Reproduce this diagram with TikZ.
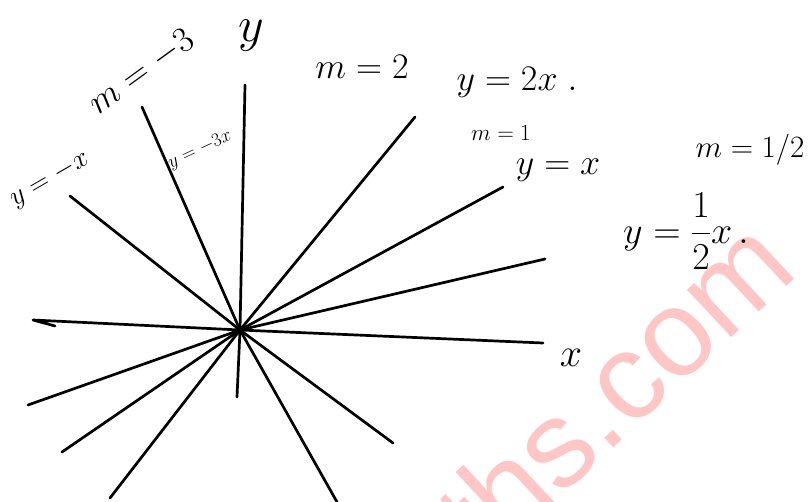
\RequirePackage{fix-cm}
\documentclass[tikz,border=0pt]{standalone}
\usepackage{fontspec}
\newfontfamily\wmfont{Liberation Sans}
\definecolor{wmpink}{RGB}{255,198,198}
\tikzset{
  ray/.style={line width=2.7pt, line cap=round, line join=round, draw=black},
  hand/.style={inner sep=0pt, text=black},
  wm/.style={inner sep=0pt, text=wmpink}
}
\begin{document}
\begin{tikzpicture}[x=1pt,y=-1pt]
\useasboundingbox (0,0) rectangle (811,502);
% watermark
\node[wm, rotate=43] (wmark) at (613,388) {\wmfont\fontsize{123}{123}\selectfont ths.com};
% points
\coordinate (O) at (240,330);
\coordinate (xl) at (33,320);
\coordinate (xh) at (55,326);
\coordinate (xr) at (543,343);
\coordinate (yt) at (245,85);
\coordinate (yb) at (237,397);
\coordinate (a1) at (415,117);
\coordinate (a2) at (110,498);
\coordinate (b1) at (503,187);
\coordinate (b2) at (62,452);
\coordinate (c1) at (545,259);
\coordinate (c2) at (28,405);
\coordinate (d1) at (70,196);
\coordinate (d2) at (393,443);
\coordinate (e1) at (142,107);
\coordinate (e2) at (337,502);
% axes
\draw[ray] (xh) -- (xl) -- (O) -- (xr);
\draw[ray] (yt) -- (O) -- (yb);
% lines
\draw[ray] (a1) -- (O) -- (a2);
\draw[ray] (b1) -- (O) -- (b2);
\draw[ray] (c1) -- (O) -- (c2);
\draw[ray] (d1) -- (O) -- (d2);
\draw[ray] (e1) -- (O) -- (e2);
\fill (O) circle (4);
% labels
\node[hand] (ly) at (251,36) {\fontsize{50}{54}\selectfont $y$};
\node[hand, rotate=36] (lm3) at (142,72) {\fontsize{36}{40}\selectfont $m=-3$};
\node[hand, rotate=30] (lyneg) at (50,180) {\fontsize{28}{32}\selectfont $y=-x$};
\node[hand, rotate=25] (lyneg3) at (200,150) {\fontsize{19}{22}\selectfont $y=-3x$};
\node[hand] (lm2) at (362,67) {\fontsize{36}{40}\selectfont $m=2$};
\node[hand] (ly2x) at (517,82) {\fontsize{36}{40}\selectfont $y=2x\;.$};
\node[hand] (lm1) at (501,133) {\fontsize{23}{26}\selectfont $m=1$};
\node[hand] (lyx) at (558,170) {\fontsize{36}{40}\selectfont $y=x$};
\node[hand] (lmh) at (750,150) {\fontsize{31}{34}\selectfont $m=1/2$};
\node[hand] (lyh) at (686,231) {\fontsize{38}{42}\selectfont $\displaystyle y=\frac{1}{2}x\,.$};
\node[hand] (lx) at (571,358) {\fontsize{40}{44}\selectfont $x$};
\end{tikzpicture}
\end{document}
